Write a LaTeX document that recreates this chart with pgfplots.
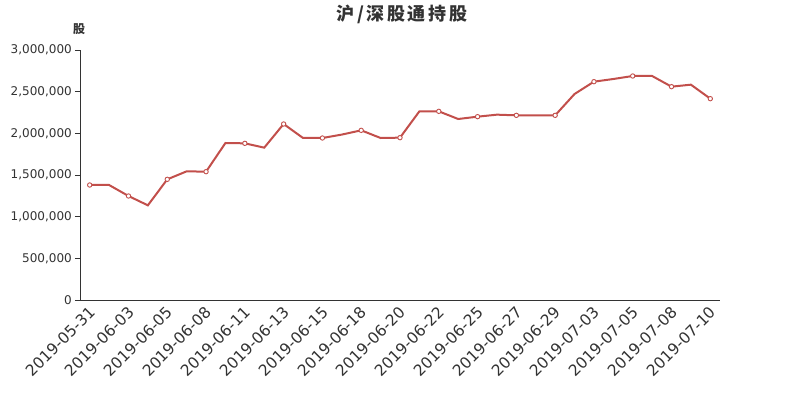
\documentclass[border=0pt]{standalone}
\usepackage{pgfplots}
\pgfplotsset{compat=1.18}
\usepackage{fontspec}
\setmainfont{DejaVu Sans}
\newfontfamily\cjk{Noto Sans CJK SC}
\newfontfamily\cjkt[LetterSpace=14]{Noto Sans CJK SC}
\definecolor{txt}{HTML}{333333}
\definecolor{linec}{RGB}{194,79,75}
\begin{document}
\begin{tikzpicture}
\path[use as bounding box] (-80bp,-100bp) rectangle (720bp,300bp);
\begin{axis}[
  at={(0,0)}, anchor=south west,
  scale only axis, width=640bp, height=250bp,
  xmin=-0.5, xmax=32.5, ymin=0, ymax=3000000,
  axis x line*=bottom, axis y line*=left,
  axis line style={txt, line width=0.8bp},
  tick align=outside,
  tick style={txt, line width=0.8bp},
  major tick length=5bp,
  scaled y ticks=false,
  ytick={0,500000,1000000,1500000,2000000,2500000,3000000},
  yticklabel style={font=\fontsize{12bp}{14bp}\selectfont, text=txt, inner sep=0pt, xshift=-3bp},
  /pgf/number format/.cd, fixed, 1000 sep={,}, assume math mode=true,
  /pgfplots/.cd,
  xtick={0,2,4,6,8,10,12,14,16,18,20,22,24,26,28,30,32},
  xticklabels={2019-05-31,2019-06-03,2019-06-05,2019-06-08,2019-06-11,2019-06-13,2019-06-15,2019-06-18,2019-06-20,2019-06-22,2019-06-25,2019-06-27,2019-06-29,2019-07-03,2019-07-05,2019-07-08,2019-07-10},
  x tick style={draw=none},
  xticklabel style={font=\fontsize{15.5bp}{17bp}\selectfont, text=txt, rotate=45, anchor=east, inner sep=0pt, yshift=-5bp, xshift=-1bp},
  extra x ticks={-0.5,1.5,3.5,5.5,7.5,9.5,11.5,13.5,15.5,17.5,19.5,21.5,23.5,25.5,27.5,29.5,31.5},
  extra x tick labels={},
  extra x tick style={tick style={draw=txt, line width=0.8bp}, major tick length=5bp},
  clip=false,
]
\addplot[linec, line width=2bp, mark=*, mark repeat=2, mark size=2.2bp,
  mark options={fill=white, draw=linec, line width=0.9bp}] coordinates {
(0,1380000) (1,1380000) (2,1248000) (3,1136000) (4,1448000) (5,1544000)
(6,1540000) (7,1884000) (8,1880000) (9,1828000) (10,2112000) (11,1944000)
(12,1944000) (13,1985000) (14,2036000) (15,1944000) (16,1948000) (17,2264000)
(18,2264000) (19,2172000) (20,2200000) (21,2224000) (22,2216000) (23,2216000)
(24,2216000) (25,2472000) (26,2620000) (27,2652000) (28,2688000) (29,2688000)
(30,2560000) (31,2584000) (32,2416000)
};
\end{axis}
\node[text=txt, font=\cjkt\bfseries\fontsize{18bp}{20bp}\selectfont, inner sep=0pt] at (322bp,286bp) {沪/深股通持股};
\node[text=txt, font=\cjk\bfseries\fontsize{12bp}{14bp}\selectfont, inner sep=0pt] at (-1bp,271bp) {股};
\end{tikzpicture}
\end{document}
